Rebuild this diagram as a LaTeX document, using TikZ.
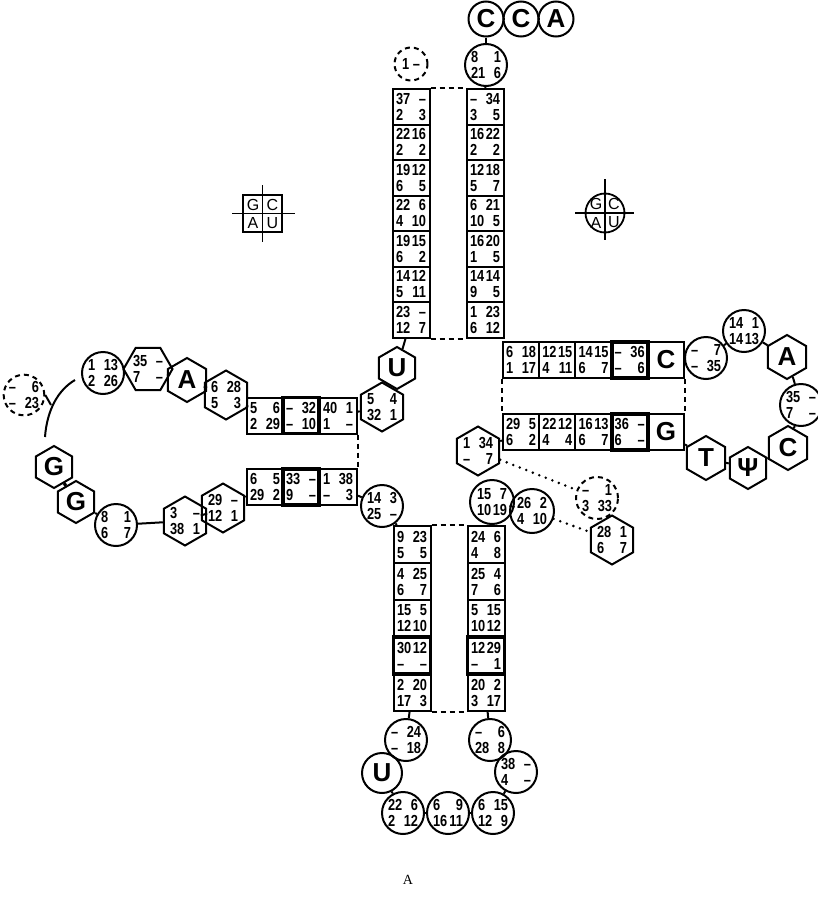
\documentclass[tikz,border=0pt]{standalone}
\usepackage{fontspec}
\setmainfont{Liberation Sans}
\newfontfamily\hand[FakeStretch=0.8]{Liberation Sans}
\newfontfamily\capfont{Liberation Serif}
\usetikzlibrary{shapes.geometric}
\newcommand\cellnum[4]{\makebox[30pt]{#1\hfill#2}\\\makebox[30pt]{#3\hfill#4}}
\newcommand\cfnt{\hand\bfseries\fontsize{16}{16}\selectfont}
\newcommand\bgfnt{\bfseries\fontsize{26}{26}\selectfont}
\newcommand\kfnt{\fontsize{16}{16}\selectfont}
\begin{document}
\begin{tikzpicture}[x=1pt,y=-1pt,
  cellbox/.style={draw, line width=2pt, minimum width=37pt, minimum height=35.5pt, inner sep=0pt, font=\cfnt, align=center},
  boldbox/.style={cellbox, line width=3.8pt},
  circ/.style={circle, draw, line width=2pt, minimum size=42pt, inner sep=0pt, font=\cfnt, align=center},
  dcirc/.style={circ, dash pattern=on 5pt off 4pt},
  hexa/.style={regular polygon, regular polygon sides=6, shape border rotate=30, draw, line width=2pt, minimum size=44pt, inner sep=0pt, font=\cfnt, align=center},
  hexf/.style={hexa, shape border rotate=0},
  bigc/.style={circ, font=\bgfnt},
  bighex/.style={hexa, font=\bgfnt},
  link/.style={line width=2pt},
  dlink/.style={line width=2pt, dash pattern=on 5pt off 4pt},
  dotl/.style={line width=2.8pt, line cap=round, dash pattern=on 0pt off 7pt},
  keyl/.style={font=\kfnt, inner sep=0pt}
]
\useasboundingbox (0,0) rectangle (818,897);

% ---------- CCA end and acceptor stem ----------
\node[bigc, minimum size=35pt] (cc1) at (486,19) {C};
\node[bigc, minimum size=35pt] (cc2) at (521,19) {C};
\node[bigc, minimum size=35pt] (ca)  at (556,19) {A};
\node[circ] (c81) at (486,65) {\cellnum{8}{1}{21}{6}};
\node[dcirc, minimum size=33pt] (dc1) at (411,64) {1 –};

\node[cellbox] (L1) at (411,106.75) {\cellnum{37}{–}{2}{3}};
\node[cellbox] (L2) at (411,142.25) {\cellnum{22}{16}{2}{2}};
\node[cellbox] (L3) at (411,177.75) {\cellnum{19}{12}{6}{5}};
\node[cellbox] (L4) at (411,213.25) {\cellnum{22}{6}{4}{10}};
\node[cellbox] (L5) at (411,248.75) {\cellnum{19}{15}{6}{2}};
\node[cellbox] (L6) at (411,284.25) {\cellnum{14}{12}{5}{11}};
\node[cellbox] (L7) at (411,319.75) {\cellnum{23}{–}{12}{7}};

\node[cellbox] (R1) at (485,106.75) {\cellnum{–}{34}{3}{5}};
\node[cellbox] (R2) at (485,142.25) {\cellnum{16}{22}{2}{2}};
\node[cellbox] (R3) at (485,177.75) {\cellnum{12}{18}{5}{7}};
\node[cellbox] (R4) at (485,213.25) {\cellnum{6}{21}{10}{5}};
\node[cellbox] (R5) at (485,248.75) {\cellnum{16}{20}{1}{5}};
\node[cellbox] (R6) at (485,284.25) {\cellnum{14}{14}{9}{5}};
\node[cellbox] (R7) at (485,319.75) {\cellnum{1}{23}{6}{12}};

\draw[link] (cc1) -- (cc2);
\draw[link] (cc2) -- (ca);
\draw[link] (cc1) -- (c81);
\draw[link] (c81) -- (R1);
\draw[dlink] (L1.north east) -- (R1.north west);
\draw[dlink] (L7.south east) -- (R7.south west);

% ---------- T stem ----------
\tikzset{tbox/.style={cellbox, minimum width=36.2pt, minimum height=36pt}}
\node[tbox] (T1) at (521.1,360) {\cellnum{6}{18}{1}{17}};
\node[tbox] (T2) at (557.3,360) {\cellnum{12}{15}{4}{11}};
\node[tbox] (T3) at (593.5,360) {\cellnum{14}{15}{6}{7}};
\node[tbox, font=\bgfnt] (Tc) at (665.9,360) {C};
\node[tbox, line width=3.8pt] (T4) at (629.7,360) {\cellnum{–}{36}{–}{6}};

\node[tbox] (B1) at (521.1,432) {\cellnum{29}{5}{6}{2}};
\node[tbox] (B2) at (557.3,432) {\cellnum{22}{12}{4}{4}};
\node[tbox] (B3) at (593.5,432) {\cellnum{16}{13}{6}{7}};
\node[tbox, font=\bgfnt] (Bg) at (665.9,432) {G};
\node[tbox, line width=3.8pt] (B4) at (629.7,432) {\cellnum{36}{–}{6}{–}};

\draw[dlink] (T1.south west) -- (B1.north west);
\draw[dlink] (Tc.south east) -- (Bg.north east);

% ---------- T loop ----------
\node[circ] (t7) at (706,358) {\cellnum{–}{7}{–}{35}};
\node[circ] (t14) at (744,331) {\cellnum{14}{1}{14}{13}};
\node[bighex] (tA) at (787,357) {A};
\node[circ] (t35) at (801,405) {\cellnum{35}{–}{7}{–}};
\node[bighex] (tC) at (788,448) {C};
\node[bighex, minimum size=42pt] (tPsi) at (748,468) {Ψ};
\node[bighex] (tT) at (706,458) {T};
\draw[link] (Tc) -- (t7);
\draw[link] (t7) -- (t14);
\draw[link] (t14) -- (tA);
\draw[link] (tA) -- (t35);
\draw[link] (t35) -- (tC);
\draw[link] (tC) -- (tPsi);
\draw[link] (tPsi) -- (tT);
\draw[link] (tT) -- (Bg);

% ---------- hexagon and dashed circle under T stem ----------
\node[hexa, minimum size=42pt] (h134) at (478,451) {\cellnum{1}{34}{–}{7}};
\node[dcirc] (dc133) at (597,498) {\cellnum{–}{1}{3}{33}};
\draw[link] (h134) -- (B1);
\draw[dotl] (h134) -- (dc133);

% ---------- connector region, D stem ----------
\node[bighex, minimum size=42pt] (hU) at (397,368) {U};
\node[hexa, minimum size=42pt] (h54) at (382,407) {\cellnum{5}{4}{32}{1}};
\draw[link] (L7) -- (hU);
\draw[line width=3.2pt] (hU) -- (h54);

\tikzset{dbox/.style={cellbox, minimum width=36pt, minimum height=36pt}}
\node[dbox] (D1) at (265,415.5) {\cellnum{5}{6}{2}{29}};
\node[dbox, minimum width=38pt] (D3) at (338,415.5) {\cellnum{40}{1}{1}{–}};
\node[dbox, line width=3.8pt] (D2) at (301,415.5) {\cellnum{–}{32}{–}{10}};
\node[dbox] (E1) at (265,487) {\cellnum{6}{5}{29}{2}};
\node[dbox, minimum width=38pt] (E3) at (338,487) {\cellnum{1}{38}{–}{3}};
\node[dbox, line width=3.8pt] (E2) at (301,487) {\cellnum{33}{–}{9}{–}};
\draw[link] (h54) -- (D3);
\draw[dlink] (D3.south east) -- (E3.north east);

% ---------- D loop ----------
\node[hexa, minimum size=42pt] (h628) at (226,395) {\cellnum{6}{28}{5}{3}};
\node[bighex] (dA) at (187,380) {A};
\node[hexf] (h35) at (148,369) {\cellnum{35}{–}{7}{–}};
\node[circ] (c113) at (103,373) {\cellnum{1}{13}{2}{26}};
\node[dcirc, minimum size=36pt] (dc623) at (24,395) {\cellnum{–}{6}{–}{23}};
\node[bighex, minimum size=42pt] (G1) at (54,467) {G};
\node[bighex, minimum size=42pt] (G2) at (76,502) {G};
\node[circ] (c816) at (116,525) {\cellnum{8}{1}{6}{7}};
\node[hexa, minimum size=42pt] (h338) at (185,521) {\cellnum{3}{–}{38}{1}};
\node[hexa, minimum size=42pt] (h29) at (223,508) {\cellnum{29}{–}{12}{1}};
\coordinate (cs) at (75,380);
\coordinate (ce) at (45,437);
\coordinate (kb) at (51,405);
\draw[link] (D1) -- (h628);
\draw[link] (h628) -- (dA);
\draw[link] (dA) -- (h35);
\draw[link] (h35) -- (c113);
\draw[link] (cs) .. controls (58,390) and (47,410) .. (ce);
\draw[link] (dc623.east) -- (kb);
\draw[line width=3.2pt] (G1) -- (G2);
\draw[link] (G2) -- (c816);
\draw[link] (c816) -- (h338);
\draw[link] (h338) -- (h29);
\draw[link] (h29) -- (E1);

% ---------- anticodon stem ----------
\tikzset{abox/.style={cellbox, minimum width=37pt, minimum height=37pt}}
\node[abox] (AL1) at (412,544.5) {\cellnum{9}{23}{5}{5}};
\node[abox] (AL2) at (412,581.5) {\cellnum{4}{25}{6}{7}};
\node[abox] (AL3) at (412,618.5) {\cellnum{15}{5}{12}{10}};
\node[abox] (AL5) at (412,692.5) {\cellnum{2}{20}{17}{3}};
\node[abox, line width=3.8pt] (AL4) at (412,655.5) {\cellnum{30}{12}{–}{–}};
\node[abox] (AR1) at (486,544.5) {\cellnum{24}{6}{4}{8}};
\node[abox] (AR2) at (486,581.5) {\cellnum{25}{4}{7}{6}};
\node[abox] (AR3) at (486,618.5) {\cellnum{5}{15}{10}{12}};
\node[abox] (AR5) at (486,692.5) {\cellnum{20}{2}{3}{17}};
\node[abox, line width=3.8pt] (AR4) at (486,655.5) {\cellnum{12}{29}{–}{1}};
\draw[dlink] (AL1.north east) -- (AR1.north west);
\draw[dlink] (AL5.south east) -- (AR5.south west);

\node[circ] (c143) at (382,506) {\cellnum{14}{3}{25}{–}};
\draw[link] (E3) -- (c143);
\draw[link] (c143) -- (AL1);

\node[circ, minimum size=44pt] (c157) at (492,502) {\cellnum{15}{7}{10}{19}};
\node[circ, minimum size=44pt] (c262) at (532,511) {\cellnum{26}{2}{4}{10}};
\node[hexa, minimum size=42pt] (h281) at (612,540) {\cellnum{28}{1}{6}{7}};
\draw[link] (AR1) -- (c157);
\draw[link] (c157) -- (c262);
\draw[dotl] (c262) -- (h281);

% ---------- anticodon loop ----------
\node[circ] (a24) at (406,740) {\cellnum{–}{24}{–}{18}};
\node[bigc, minimum size=40pt] (aU) at (382,773) {U};
\node[circ] (a226) at (403,813) {\cellnum{22}{6}{2}{12}};
\node[circ] (a69) at (448,813) {\cellnum{6}{9}{16}{11}};
\node[circ] (a615) at (493,813) {\cellnum{6}{15}{12}{9}};
\node[circ] (a38) at (516,772) {\cellnum{38}{–}{4}{–}};
\node[circ] (a6) at (490,740) {\cellnum{–}{6}{28}{8}};
\draw[link] (AL5) -- (a24);
\draw[link] (a24) -- (aU);
\draw[link] (aU) -- (a226);
\draw[link] (a226) -- (a69);
\draw[link] (a69) -- (a615);
\draw[link] (a615) -- (a38);
\draw[link] (a38) -- (a6);
\draw[link] (a6) -- (AR5);

% ---------- keys ----------
\draw[line width=1.8pt] (243,195) rectangle (282,232);
\draw[line width=1.8pt] (232,213.5) -- (295,213.5);
\draw[line width=1.8pt] (262.5,185) -- (262.5,242);
\node[keyl] (kG) at (253,204.5) {G};
\node[keyl] (kC) at (272.5,204.5) {C};
\node[keyl] (kA) at (253,223) {A};
\node[keyl] (kU) at (272.5,223) {U};

\draw[line width=1.8pt] (605,213) circle (19.5);
\draw[line width=1.8pt] (575,213) -- (634,213);
\draw[line width=1.8pt] (605,179) -- (605,240);
\node[keyl] (rG) at (596,204) {G};
\node[keyl] (rC) at (614,204) {C};
\node[keyl] (rA) at (596,222.5) {A};
\node[keyl] (rU) at (614,222.5) {U};

% ---------- caption ----------
\node[font=\capfont\fontsize{14}{14}\selectfont] (cap) at (408,880) {A};
\end{tikzpicture}
\end{document}
